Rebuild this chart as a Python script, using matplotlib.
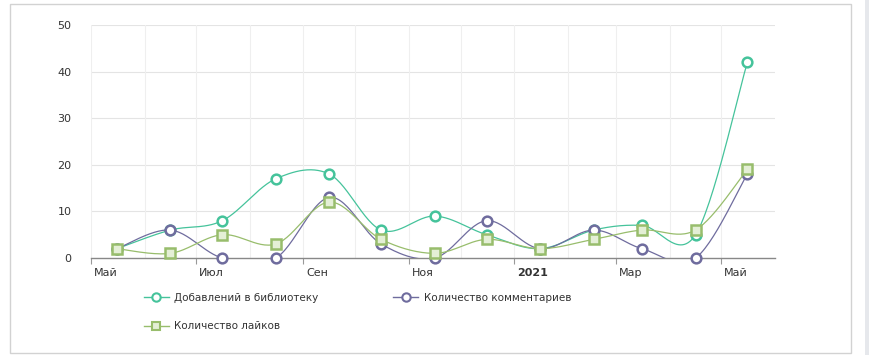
import matplotlib
matplotlib.use("Agg")
import matplotlib.pyplot as plt
import matplotlib.dates as mdates
import matplotlib.transforms as mtrans
from matplotlib.patches import Rectangle
from matplotlib.lines import Line2D
import numpy as np
import datetime as dt

# ---- data ----
dates = ["2020-05-16", "2020-06-16", "2020-07-16", "2020-08-16", "2020-09-16",
         "2020-10-16", "2020-11-16", "2020-12-16", "2021-01-16", "2021-02-16",
         "2021-03-16", "2021-04-16", "2021-05-16"]
library_adds = [2, 6, 8, 17, 18, 6, 9, 5, 2, 6, 7, 5, 42]
comments = [2, 6, 0, 0, 13, 3, 0, 8, 2, 6, 2, 0, 18]
likes = [2, 1, 5, 3, 12, 4, 1, 4, 2, 4, 6, 6, 19]
series_names = ["Добавлений в библиотеку", "Количество комментариев", "Количество лайков"]
tick_labels = ["Май", "Июл", "Сен", "Ноя", "2021", "Мар", "Май"]
tick_dates = ["2020-05-01", "2020-07-01", "2020-09-01", "2020-11-01",
              "2021-01-01", "2021-03-01", "2021-05-01"]

FONT = "DejaVu Sans"
plt.rcParams["font.family"] = [FONT]

xs = mdates.date2num([dt.datetime.fromisoformat(d) for d in dates])


def smooth(x, y, n=30):
    x = np.asarray(x, float); y = np.asarray(y, float)
    px = np.concatenate([[x[0]], x, [x[-1]]])
    py = np.concatenate([[y[0]], y, [y[-1]]])
    outx, outy = [], []
    t = np.linspace(0, 1, n)
    for i in range(1, len(px) - 2):
        p0 = np.array([px[i - 1], py[i - 1]]); p1 = np.array([px[i], py[i]])
        p2 = np.array([px[i + 1], py[i + 1]]); p3 = np.array([px[i + 2], py[i + 2]])
        c1 = p1 + (p2 - p0) / 6.0
        c2 = p2 - (p3 - p1) / 6.0
        b = ((1 - t) ** 3)[:, None] * p1 + (3 * (1 - t) ** 2 * t)[:, None] * c1 \
            + (3 * (1 - t) * t ** 2)[:, None] * c2 + (t ** 3)[:, None] * p2
        outx.extend(b[:, 0]); outy.extend(b[:, 1])
    return np.array(outx), np.array(outy)


W, H = 870, 355
fig = plt.figure(figsize=(W / 100, H / 100), dpi=100)

# outer frame
fig.patches.append(Rectangle((10 / W, 1 - 353 / H), 841 / W, 349 / H, transform=fig.transFigure,
                             fill=False, edgecolor="#d2d2d2", linewidth=1.0))
fig.patches.append(Rectangle((865 / W, 0), 5 / W, 1, transform=fig.transFigure,
                             facecolor="#e6e8ec", edgecolor="none"))

ax = fig.add_axes([91 / W, 1 - 258 / H, 684 / W, 233 / H])
ax.set_ylim(0, 50)
ax.set_xlim(mdates.date2num(dt.datetime(2020, 5, 1)), mdates.date2num(dt.datetime(2021, 6, 1)))

colors = ["#45c39b", "#6f6c9e", "#98bd6c"]
series = [library_adds, comments, likes]
markers = ["o", "o", "s"]
faces = ["white", "white", "#e4efd6"]
zs = [3, 4, 5]
for vals, c, m, fc, z in zip(series, colors, markers, faces, zs):
    sx, sy = smooth(xs, vals)
    ax.plot(sx, sy, color=c, linewidth=0.9, zorder=z)
    ax.plot(xs, vals, linestyle="none", marker=m, markersize=7 if m == "o" else 7.5,
            markerfacecolor=fc, markeredgecolor=c, markeredgewidth=1.8, zorder=z + 0.5,
            clip_on=False)

# grid
ax.set_yticks([0, 10, 20, 30, 40, 50])
for yv in [10, 20, 30, 40, 50]:
    ax.axhline(yv, color="#e4e4e4", linewidth=0.8, zorder=0)
month_starts = [dt.datetime(2020 + (4 + k) // 12, (4 + k) % 12 + 1, 1) for k in range(13)]
for d in month_starts:
    ax.axvline(mdates.date2num(d), color="#efefef", linewidth=0.8, zorder=0)

tick_x = mdates.date2num([dt.datetime.fromisoformat(d) for d in tick_dates])
ax.set_xticks(tick_x)
ax.set_xticklabels(tick_labels, fontsize=8, color="#333333", ha="left")
for lbl in ax.get_xticklabels():
    if lbl.get_text() == "2021":
        lbl.set_fontweight("bold")
ax.tick_params(axis="x", length=4, color="#999999", pad=3)
ax.tick_params(axis="y", length=0, pad=14, labelsize=8, labelcolor="#333333")
offset = mtrans.ScaledTranslation(2 / 72, 0, fig.dpi_scale_trans)
for lbl in ax.get_xticklabels():
    lbl.set_transform(lbl.get_transform() + offset)

for s in ["top", "right", "left"]:
    ax.spines[s].set_visible(False)
ax.spines["bottom"].set_color("#888888")
ax.spines["bottom"].set_linewidth(1.0)
ax.spines["bottom"].set_zorder(2)

handles = []
order = [0, 2, 1]
for i in order:
    handles.append(Line2D([0], [0], color=colors[i], linewidth=1.0, marker=markers[i],
                          markersize=6, markerfacecolor=faces[i], markeredgecolor=colors[i],
                          markeredgewidth=1.5))
fig.legend(handles, [series_names[i] for i in order], ncol=2, frameon=False,
           loc="upper left", bbox_to_anchor=(144 / W, 1 - 293 / H), fontsize=7.5,
           handlelength=2.4, handletextpad=0.5, columnspacing=7.2, labelspacing=1.75,
           borderpad=0, borderaxespad=0, labelcolor="#333333")

fig.savefig("out.png", dpi=100)
